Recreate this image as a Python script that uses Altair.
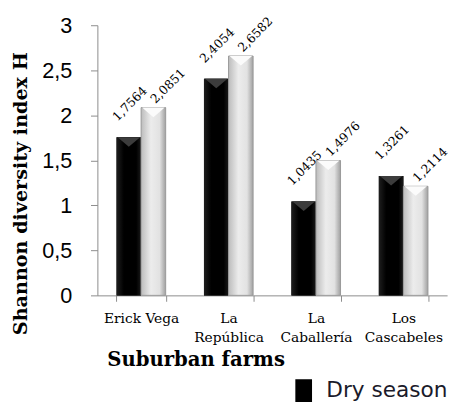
import altair as alt
import pandas as pd

farms = ["Erick Vega", "La República", "La Caballería", "Los Cascabeles"]
seasons = ["Dry season", "Rainy season"]
dry = [1.7564, 2.4054, 1.0435, 1.3261]
rainy = [2.0851, 2.6582, 1.4976, 1.2114]
y_ticks = [0, 0.5, 1, 1.5, 2, 2.5, 3]

rows = []
for f, d, r in zip(farms, dry, rainy):
    rows.append({"farm": f, "season": seasons[0], "value": d})
    rows.append({"farm": f, "season": seasons[1], "value": r})
df = pd.DataFrame(rows)

x_enc = alt.X(
    "farm:N", sort=farms,
    scale=alt.Scale(domain=farms, paddingInner=0.438, paddingOuter=0.219),
    axis=alt.Axis(
        title="Suburban farms", labelAngle=0,
        labelExpr="datum.label == 'Erick Vega' ? datum.label : split(datum.label, ' ')",
        tickBand="extent", domainColor="#8c8c8c", tickColor="#8c8c8c", tickSize=6,
        labelFont="DejaVu Serif", labelFontSize=14, labelLineHeight=19,
        labelBaseline="top", labelPadding=11, labelColor="#000",
        titleFont="DejaVu Serif", titleFontSize=20, titleFontWeight="bold",
        titleColor="#000", titleX=100, titleY=71, titleBaseline="alphabetic",
        titleAlign="center",
    ),
)
xo_enc = alt.XOffset("season:N", sort=seasons,
                     scale=alt.Scale(domain=seasons, paddingInner=0, paddingOuter=0))
y_enc = alt.Y(
    "value:Q", scale=alt.Scale(domain=[0, 3]),
    axis=alt.Axis(
        values=y_ticks, format=".1~f", labelExpr="replace(datum.label, '.', ',')",
        grid=False, domainColor="#8c8c8c", tickColor="#8c8c8c", tickSize=7,
        labelFont="Liberation Sans", labelFontSize=22, labelColor="#000",
        labelPadding=19, labelAlign="right",
        title="Shannon diversity index H", titleFont="DejaVu Serif",
        titleFontWeight="bold", titleFontSize=19.5, titleColor="#000",
        titleX=-78, titleY=171, titleAngle=270, titleAlign="center",
        titleBaseline="middle",
    ),
)

base = alt.Chart(df).encode(x=x_enc, xOffset=xo_enc, y=y_enc)

bars = base.mark_bar().encode(
    color=alt.Color(
        "season:N",
        scale=alt.Scale(domain=seasons, range=["#000000", "#d9d9d9"]),
        legend=alt.Legend(
            values=["Dry season"], orient="none", legendX=199, legendY=360,
            title=None, labelFont="DejaVu Sans", labelFontSize=22,
            labelColor="#1a1a2a",
            symbolType="M-1,-1.25L1,-1.25L1,2.6L-1,2.6Z",
            symbolSize=289, symbolStrokeWidth=0, labelOffset=12,
        ),
    )
)

gray_grad = alt.Gradient(
    gradient="linear", x1=0, x2=1, y1=0, y2=0,
    stops=[alt.GradientStop(color="#bcbcbc", offset=0),
           alt.GradientStop(color="#ececec", offset=0.4),
           alt.GradientStop(color="#e2e2e2", offset=0.75),
           alt.GradientStop(color="#a0a0a0", offset=1)],
)
black_grad = alt.Gradient(
    gradient="linear", x1=0, x2=1, y1=0, y2=0,
    stops=[alt.GradientStop(color="#1e1e1e", offset=0),
           alt.GradientStop(color="#000000", offset=0.3),
           alt.GradientStop(color="#000000", offset=0.8),
           alt.GradientStop(color="#1a1a1a", offset=1)],
)

gray_bars = base.transform_filter(alt.datum.season == "Rainy season").mark_bar(
    fill=gray_grad, stroke="#9a9a9a", strokeWidth=1
)
black_bars = base.transform_filter(alt.datum.season == "Dry season").mark_bar(
    fill=black_grad
)

tri = "M-0.92,0L0.92,0L0,0.78Z"
gray_tri = base.transform_filter(alt.datum.season == "Rainy season").mark_point(
    shape=tri, size=625, filled=True, fill="#fbfbfb", strokeWidth=0, opacity=1
)
black_tri = base.transform_filter(alt.datum.season == "Dry season").mark_point(
    shape=tri, size=625, filled=True, fill="#3c3c3c", strokeWidth=0, opacity=1
)

lab = base.transform_calculate(
    label="replace(format(datum.value, '.4f'), '.', ',')"
)
text_dry = lab.transform_filter(alt.datum.season == "Dry season").mark_text(
    angle=315, align="center", baseline="middle", dx=24.7, dy=-23.3,
    font="DejaVu Serif", fontSize=12.5, color="#000"
).encode(text="label:N")
text_rainy = lab.transform_filter(alt.datum.season == "Rainy season").mark_text(
    angle=315, align="center", baseline="middle", dx=26, dy=-5,
    font="DejaVu Serif", fontSize=12.5, color="#000"
).encode(text="label:N")

chart = alt.layer(
    bars, black_bars, gray_bars, black_tri, gray_tri, text_dry, text_rainy
).properties(
    width=356, height=275,
    padding={"left": 91, "top": 14, "right": 6, "bottom": 105},
    autosize=alt.AutoSizeParams(type="none"),
    background="white",
).configure_view(stroke=None)

chart.save("out.html", embed_options={"renderer": "svg", "actions": False})
